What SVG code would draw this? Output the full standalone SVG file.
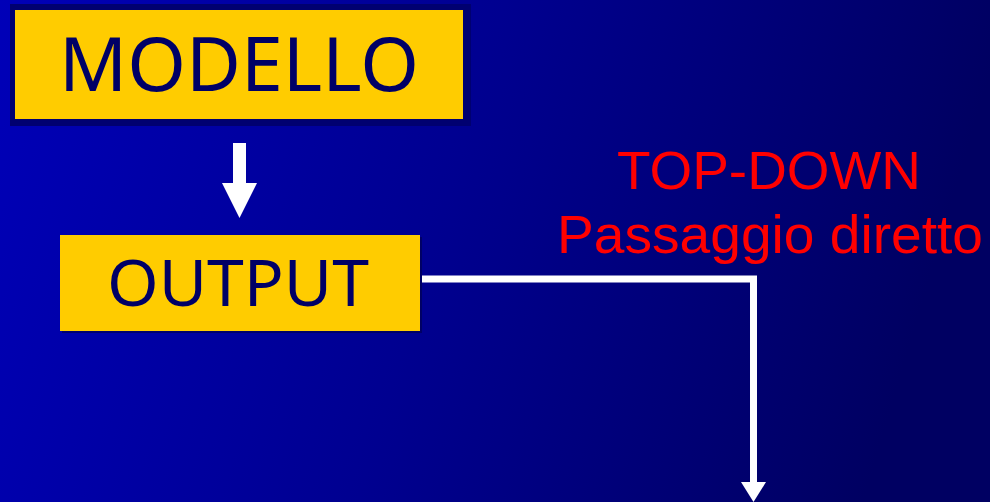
<svg xmlns="http://www.w3.org/2000/svg" width="990" height="502" viewBox="0 0 990 502">
<style>
.box{fill:#FFCC00}
.lbl{font-family:"Noto Sans","DejaVu Sans",sans-serif;fill:#000066}
.red{font-family:"Liberation Sans","Noto Sans",sans-serif;fill:#FF0000;font-size:53px}
.wire{fill:none;stroke:#FFFFFF;stroke-width:7}
.head{fill:#FFFFFF}
</style>
<defs>
<linearGradient id="bg" x1="0" y1="0" x2="1" y2="0.15">
<stop offset="0" stop-color="#0000B8"/>
<stop offset="0.5" stop-color="#000090"/>
<stop offset="1" stop-color="#000062"/>
</linearGradient>
</defs>
<rect width="990" height="502" fill="url(#bg)"/>
<g id="modello">
<rect x="10" y="4" width="461" height="122" fill="#000070"/>
<rect class="box" x="15" y="10" width="448" height="109"/>
<text class="lbl" x="59" y="91" font-size="74" textLength="360" lengthAdjust="spacingAndGlyphs">MODELLO</text>
</g>
<g id="output">
<rect x="62" y="237" width="360" height="96" fill="#00004A" opacity="0.6"/>
<rect class="box" x="60" y="235" width="360" height="96"/>
<text class="lbl" x="107" y="306" font-size="64" textLength="262" lengthAdjust="spacingAndGlyphs">OUTPUT</text>
</g>
<g id="label">
<text class="red" x="617" y="189" textLength="304" lengthAdjust="spacingAndGlyphs">TOP-DOWN</text>
<text class="red" x="557" y="253" textLength="426" lengthAdjust="spacingAndGlyphs">Passaggio diretto</text>
</g>
<g id="connectors">
<rect class="head" x="233" y="143" width="13" height="41"/>
<polygon class="head" points="222,183 257,183 239.5,218"/>
<path class="wire" d="M422 279 H753.5 V484"/>
<polygon class="head" points="741,482 766,482 753.5,502"/>
</g>
</svg>
